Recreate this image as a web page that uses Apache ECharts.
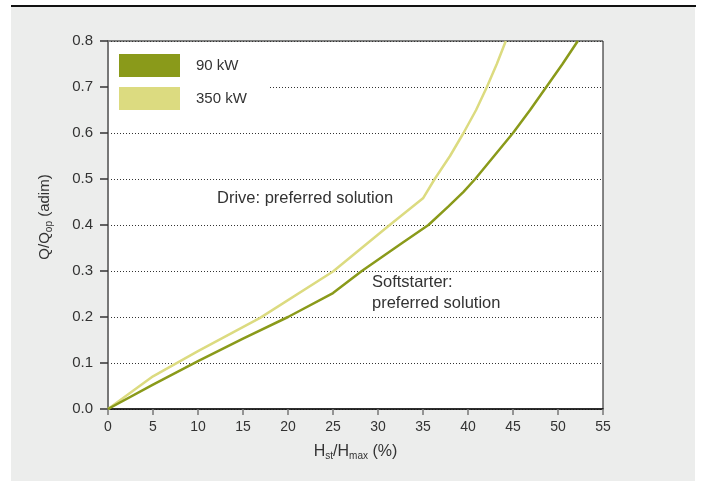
<!DOCTYPE html>
<html>
<head>
<meta charset="utf-8">
<script src="https://cdn.jsdelivr.net/npm/echarts@6/dist/echarts.min.js"></script>
<style>
html,body{margin:0;padding:0;background:#fff;width:707px;height:481px;overflow:hidden;}
#topline{position:absolute;left:11px;top:5px;width:685px;height:2px;background:#111;}
#panel{position:absolute;left:11px;top:7px;width:684px;height:474px;background:#ecedec;}
#chart{position:absolute;left:0;top:0;width:707px;height:481px;}
</style>
</head>
<body>
<div id="topline"></div>
<div id="panel"></div>
<div id="chart"></div>
<script>
// Data
const seriesNames = ['90 kW', '350 kW'];
const xTicks = [0, 5, 10, 15, 20, 25, 30, 35, 40, 45, 50, 55];
const yTicks = [0.0, 0.1, 0.2, 0.3, 0.4, 0.5, 0.6, 0.7, 0.8];
const data90kW = [
  [0, 0], [5, 0.053], [10, 0.104], [15, 0.153], [20, 0.2], [25, 0.252],
  [28.2, 0.3], [32.4, 0.357], [35.6, 0.4], [37.8, 0.44], [39.5, 0.472],
  [40.8, 0.5], [42.9, 0.55], [45, 0.6], [46.9, 0.65], [48.7, 0.7],
  [50.5, 0.75], [52.2, 0.8]
];
const data350kW = [
  [0, 0], [5, 0.071], [10, 0.126], [16.9, 0.198], [25, 0.299],
  [31.3, 0.4], [35, 0.458], [36.3, 0.5], [38, 0.55], [39.5, 0.6],
  [40.9, 0.65], [42.1, 0.7], [43.2, 0.75], [44.2, 0.8]
];
const annotations = ['Drive: preferred solution', 'Softstarter:\npreferred solution'];

const FONT = 'Liberation Sans, Arial, Helvetica, sans-serif';
const colDark = '#8a9a1a';
const colLight = '#dcdb80';

const chart = echarts.init(document.getElementById('chart'), null, {renderer: 'canvas'});
chart.setOption({
  backgroundColor: 'transparent',
  animation: false,
  textStyle: {fontFamily: FONT},
  grid: {
    left: 108, right: 104, top: 41, bottom: 72,
    show: true, backgroundColor: '#fff', borderColor: '#111', borderWidth: 1
  },
  legend: {
    orient: 'vertical',
    left: 109, top: 45,
    itemWidth: 61, itemHeight: 23, itemGap: 10,
    backgroundColor: '#fff',
    padding: [9, 22, 9, 10],
    textStyle: {fontSize: 15, color: '#333', fontFamily: FONT, padding: [0, 0, 0, 11]},
    data: seriesNames.map(n => ({name: n, icon: 'rect'}))
  },
  xAxis: {
    type: 'value', min: xTicks[0], max: xTicks[xTicks.length - 1], interval: 5,
    axisLine: {show: true, onZero: false, lineStyle: {color: '#111', width: 1.5}},
    axisTick: {show: true, length: 6, lineStyle: {color: '#777', width: 1.5}},
    axisLabel: {fontSize: 14, color: '#333', margin: 11, fontFamily: FONT},
    splitLine: {show: false},
    name: 'H{sub|st}/H{sub|max} (%)',
    nameLocation: 'middle', nameGap: 33,
    nameTextStyle: {
      fontSize: 16, color: '#333', fontFamily: FONT,
      rich: {sub: {fontSize: 10, color: '#333', fontFamily: FONT, padding: [9, 0, 0, 0]}}
    }
  },
  yAxis: {
    type: 'value', min: yTicks[0], max: yTicks[yTicks.length - 1], interval: 0.1,
    axisLine: {show: true, lineStyle: {color: '#777', width: 2}},
    axisTick: {show: true, length: 8, lineStyle: {color: '#333', width: 1.5}},
    axisLabel: {fontSize: 15, color: '#333', margin: 15, fontFamily: FONT,
      formatter: v => v.toFixed(1)},
    splitLine: {show: true, lineStyle: {color: '#333', type: [1, 2], width: 1}},
    name: 'Q/Q{sub|op} (adim)',
    nameLocation: 'middle', nameGap: 54, nameRotate: 90,
    nameTextStyle: {
      fontSize: 15, color: '#333', fontFamily: FONT, padding: [0, 0, 0, 16],
      rich: {sub: {fontSize: 10, color: '#333', fontFamily: FONT, padding: [9, 0, 0, 0]}}
    }
  },
  series: [
    {
      name: seriesNames[0], type: 'line', data: data90kW, showSymbol: false, symbol: 'none',
      color: colDark, itemStyle: {color: colDark},
      lineStyle: {color: colDark, width: 2.5}, z: 3
    },
    {
      name: seriesNames[1], type: 'line', data: data350kW, showSymbol: false, symbol: 'none',
      color: colLight, itemStyle: {color: colLight},
      lineStyle: {color: colLight, width: 2.5}, z: 2
    }
  ],
  graphic: [
    {type: 'text', x: 217, y: 198, z: 10,
      style: {text: annotations[0], fontSize: 16.5, fill: '#333', fontFamily: FONT, verticalAlign: 'middle'}},
    {type: 'text', x: 372, y: 272, z: 10,
      style: {text: annotations[1], fontSize: 16.5, lineHeight: 21, fill: '#333', fontFamily: FONT, verticalAlign: 'top'}}
  ]
});
</script>
</body>
</html>
